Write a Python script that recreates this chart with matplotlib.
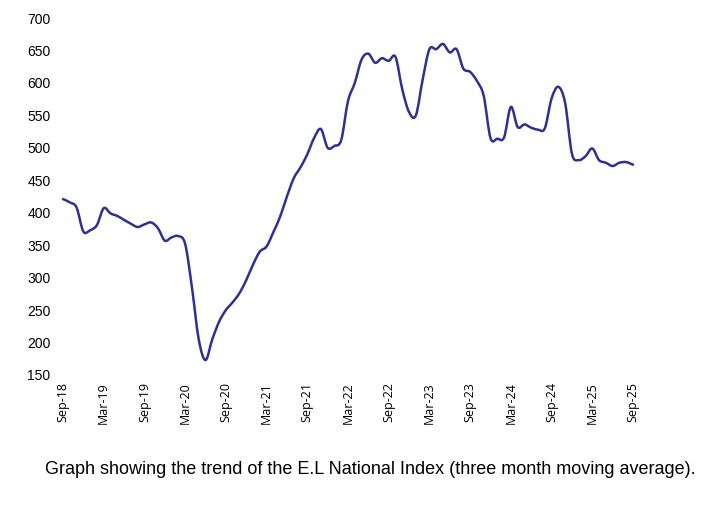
"""
Trend of the E.L National Index (three month moving average)
"""
import numpy as np
import matplotlib
matplotlib.use('Agg')
import matplotlib.pyplot as plt
from matplotlib.path import Path
from matplotlib.patches import PathPatch

# Monthly index values, Sep-18 .. Sep-25
index_values = [
    421, 416, 408, 371, 373, 381,   # Sep-18 .. Feb-19
    407, 399, 395, 389, 383, 378,   # Mar-19 .. Aug-19
    382, 385, 376, 357, 362, 364,   # Sep-19 .. Feb-20
    352, 285, 205, 173, 205, 232,   # Mar-20 .. Aug-20
    250, 262, 276, 296, 320, 340,   # Sep-20 .. Feb-21
    348, 370, 394, 425, 453, 470,   # Mar-21 .. Aug-21
    490, 515, 529, 500, 503, 512,   # Sep-21 .. Feb-22
    572, 600, 636, 645, 631, 638,   # Mar-22 .. Aug-22
    634, 640, 590, 555, 550, 605,   # Sep-22 .. Feb-23
    652, 652, 660, 647, 652, 622,   # Mar-23 .. Aug-23
    617, 603, 580, 515, 514, 516,   # Sep-23 .. Feb-24
    563, 532, 536, 531, 528, 530,   # Mar-24 .. Aug-24
    576, 594, 569, 491, 481, 487,   # Sep-24 .. Feb-25
    499, 481, 477, 472, 477, 478,   # Mar-25 .. Aug-25
    474,                            # Sep-25
]

tick_labels = ['Sep-18', 'Mar-19', 'Sep-19', 'Mar-20', 'Sep-20', 'Mar-21',
               'Sep-21', 'Mar-22', 'Sep-22', 'Mar-23', 'Sep-23', 'Mar-24',
               'Sep-24', 'Mar-25', 'Sep-25']

y_ticks = [150, 200, 250, 300, 350, 400, 450, 500, 550, 600, 650, 700]

caption = ('Graph showing the trend of the E.L National Index '
           '(three month moving average).')


def smooth_path(x, y):
    """
    Builds a smoothed (spreadsheet style) bezier path through the points

    Parameters:
    -----------
    x, y:
            arrays with the data points

    Returns:
    -----------
            matplotlib Path through every point
    """
    pts = np.column_stack([x, y]).astype(float)
    n = len(pts)
    verts = [pts[0]]
    codes = [Path.MOVETO]
    for i in range(n - 1):
        p0 = pts[max(i - 1, 0)]
        p1 = pts[i]
        p2 = pts[i + 1]
        p3 = pts[min(i + 2, n - 1)]
        c1 = p1 + (p2 - p0) / 6.0
        c2 = p2 - (p3 - p1) / 6.0
        verts += [c1, c2, p2]
        codes += [Path.CURVE4] * 3
    return Path(verts, codes)


# Some settings
line_colour = '#2e3192'
W, H = 720, 514

fig = plt.figure(figsize=(W / 100, H / 100), dpi=100)
ax = fig.add_axes([63 / W, 1 - 375 / H, (633 - 63) / W, (375 - 18) / H])

months = np.arange(len(index_values))
patch = PathPatch(smooth_path(months, index_values), facecolor='none',
                  edgecolor=line_colour, linewidth=1.8,
                  capstyle='round', joinstyle='round', clip_on=False)
ax.add_patch(patch)

ax.set_xlim(0, len(index_values) - 1)
ax.set_ylim(150, 700)

ax.set_yticks(y_ticks)
ax.set_yticklabels([str(v) for v in y_ticks], fontsize=10,
                   fontfamily='Liberation Sans')
ax.set_xticks(months[::6])
ax.set_xticklabels(tick_labels, rotation=90, fontsize=9,
                   fontfamily='Open Sans')

ax.tick_params(axis='y', length=0, pad=9)
ax.tick_params(axis='x', length=0, pad=5)

for side in ['top', 'right', 'bottom', 'left']:
    ax.spines[side].set_visible(False)

fig.text(370 / W, 1 - 470 / H, caption, ha='center', va='center',
         fontsize=13, fontfamily='Liberation Sans')

plt.savefig('out.png', dpi=100)
